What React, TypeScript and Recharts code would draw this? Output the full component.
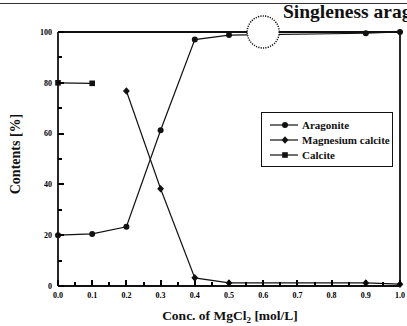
import { LineChart, Line, XAxis, YAxis, ReferenceDot, ReferenceLine, Legend } from 'recharts'

// ── data ─────────────────────────────────────────────
const ARAGONITE_X = [0, 0.1, 0.2, 0.3, 0.4, 0.5, 0.9, 1.0]
const ARAGONITE_Y = [20, 20.5, 23.3, 61.3, 97, 98.8, 99.5, 100]
const MG_CALCITE_X = [0.2, 0.3, 0.4, 0.5, 0.9, 1.0]
const MG_CALCITE_Y = [76.8, 38.3, 3.2, 1.2, 1.2, 0.7]
const CALCITE_X = [0, 0.1]
const CALCITE_Y = [80, 79.8]

const X_TICKS = [0, 0.05, 0.1, 0.15, 0.2, 0.25, 0.3, 0.35, 0.4, 0.45, 0.5, 0.55, 0.6, 0.65, 0.7, 0.75, 0.8, 0.85, 0.9, 0.95, 1.0]
const X_LABELS = [0, 0.1, 0.2, 0.3, 0.4, 0.5, 0.6, 0.7, 0.8, 0.9, 1.0]
const Y_TICKS = [0, 10, 20, 30, 40, 50, 60, 70, 80, 90, 100]
const Y_LABELS = [0, 20, 40, 60, 80, 100]

const TITLE = 'Singleness aragonite'
const X_TITLE = 'Conc. of MgCl'
const Y_TITLE = 'Contents [%]'

const toRows = (xs: number[], ys: number[]) => xs.map((x, i) => ({ x, y: ys[i] }))

type Shape = 'circle' | 'diamond' | 'square'
const SERIES: { name: string; shape: Shape; rows: { x: number; y: number }[] }[] = [
  { name: 'Aragonite', shape: 'circle', rows: toRows(ARAGONITE_X, ARAGONITE_Y) },
  { name: 'Magnesium calcite', shape: 'diamond', rows: toRows(MG_CALCITE_X, MG_CALCITE_Y) },
  { name: 'Calcite', shape: 'square', rows: toRows(CALCITE_X, CALCITE_Y) },
]

const FONT = '"Liberation Serif", "Times New Roman", serif'
const INK = '#111'
const AXIS_LINE = { stroke: INK, strokeWidth: 1.8 }
const MAJOR = 6
const MINOR = 4
const TW = 2 // tick thickness

// ── markers ──────────────────────────────────────────
function Marker({ cx, cy, shape }: { cx: number; cy: number; shape: Shape }) {
  if (cx == null || cy == null) return null
  if (shape === 'circle') return <circle cx={cx} cy={cy} r={3} fill={INK} />
  if (shape === 'diamond')
    return <polygon points={`${cx},${cy - 3.8} ${cx + 3.4},${cy} ${cx},${cy + 3.8} ${cx - 3.4},${cy}`} fill={INK} />
  return <rect x={cx - 2.8} y={cy - 2.8} width={5.6} height={5.6} fill={INK} />
}

// ── ticks: inward marks drawn as small filled rects ──
const isMajorX = (v: number) => X_LABELS.some((l) => Math.abs(l - v) < 1e-6)
const isMajorY = (v: number) => Y_LABELS.includes(v)

function BottomTick(p: any) {
  const v = Number(p.payload.value)
  const major = isMajorX(v)
  const len = major ? MAJOR : MINOR
  return (
    <g>
      <rect x={Math.round(p.x - TW / 2)} y={Math.round(p.y - len)} width={TW} height={len} fill="#000" shapeRendering="crispEdges" />
      {major && (
        <text x={p.x} y={p.y + 12} textAnchor="middle" fontSize={8} fontWeight="bold" fontFamily={FONT} fill="#000">
          {v.toFixed(1)}
        </text>
      )}
    </g>
  )
}

function TopTick(p: any) {
  const len = isMajorX(Number(p.payload.value)) ? MAJOR : MINOR
  return <rect x={Math.round(p.x - TW / 2)} y={Math.round(p.y)} width={TW} height={len} fill="#000" shapeRendering="crispEdges" />
}

function LeftTick(p: any) {
  const v = Number(p.payload.value)
  const major = isMajorY(v)
  const len = major ? MAJOR : MINOR
  return (
    <g>
      <rect x={Math.round(p.x)} y={Math.round(p.y - TW / 2)} width={len} height={TW} fill="#000" shapeRendering="crispEdges" />
      {major && (
        <text x={p.x - 6} y={p.y} dy="0.35em" textAnchor="end" fontSize={8} fontWeight="bold" fontFamily={FONT} fill="#000">
          {v}
        </text>
      )}
    </g>
  )
}

function RightTick(p: any) {
  const len = isMajorY(Number(p.payload.value)) ? MAJOR : MINOR
  return <rect x={Math.round(p.x - len)} y={Math.round(p.y - TW / 2)} width={len} height={TW} fill="#000" shapeRendering="crispEdges" />
}

function LegendBox() {
  return (
    <div style={{ border: `1px solid ${INK}`, background: '#fff', padding: '4px 0 4px 8px', fontFamily: FONT }}>
      {SERIES.map((s) => (
        <div key={s.name} style={{ display: 'flex', alignItems: 'center', height: 15 }}>
          <svg width={30} height={10}>
            <line x1={0} x2={28} y1={5} y2={5} stroke={INK} strokeWidth={1.2} />
            <Marker cx={15} cy={5} shape={s.shape} />
          </svg>
          <span style={{ fontSize: 11, fontWeight: 'bold', color: INK, marginLeft: 2 }}>{s.name}</span>
        </div>
      ))}
    </div>
  )
}

export default function App() {
  return (
    <div style={{ position: 'absolute', left: 0, top: 0, width: 407, height: 326, overflow: 'hidden', background: '#fff' }}>
      <div style={{ position: 'absolute', left: 0, top: 3, width: 407, height: 1, background: '#333' }} />
      <div
        style={{
          position: 'absolute', left: 283, top: 1, whiteSpace: 'nowrap',
          fontFamily: FONT, fontWeight: 'bold', fontSize: 19.5, color: INK, zIndex: 2,
        }}
      >
        {TITLE}
      </div>
      <LineChart width={407} height={326} margin={{ top: 0, right: 0, bottom: 0, left: 0 }}>
        <XAxis
          dataKey="x" type="number" domain={[0, 1]} ticks={X_TICKS} interval={0}
          height={40} tickSize={0} tickMargin={0} tickLine={false}
          axisLine={AXIS_LINE} tick={BottomTick}
          label={{
            content: () => (
              <text x={230} y={320} textAnchor="middle" fontSize={13.5} fontWeight="bold" fontFamily={FONT} fill={INK}>
                {X_TITLE}
                <tspan fontSize={9} dy={3}>2</tspan>
                <tspan dy={-3}> [mol/L]</tspan>
              </text>
            ),
          }}
        />
        <XAxis
          xAxisId="top" orientation="top" type="number" domain={[0, 1]} ticks={X_TICKS} interval={0}
          height={32} tickSize={0} tickMargin={0} tickLine={false}
          axisLine={AXIS_LINE} tick={TopTick}
        />
        <YAxis
          type="number" domain={[0, 100]} ticks={Y_TICKS} interval={0}
          width={58} tickSize={0} tickMargin={0} tickLine={false}
          axisLine={AXIS_LINE} tick={LeftTick}
          label={{
            content: () => (
              <text
                x={20} y={154} textAnchor="middle" fontSize={14} fontWeight="bold" fontFamily={FONT} fill={INK}
                transform="rotate(-90 20 154)"
              >
                {Y_TITLE}
              </text>
            ),
          }}
        />
        <YAxis
          yAxisId="right" orientation="right" type="number" domain={[0, 100]} ticks={Y_TICKS} interval={0}
          width={7} tickSize={0} tickMargin={0} tickLine={false}
          axisLine={AXIS_LINE} tick={RightTick}
        />
        {SERIES.map((s) => (
          <Line
            key={s.name}
            data={s.rows}
            dataKey="y"
            name={s.name}
            type="linear"
            stroke={INK}
            strokeWidth={1.2}
            isAnimationActive={false}
            dot={(p: any) => <Marker key={`${s.name}-${p.index}`} cx={p.cx} cy={p.cy} shape={s.shape} />}
            activeDot={false}
          />
        ))}
        <ReferenceDot
          x={0.6} y={100} r={16} fill="#fff" stroke={INK} strokeWidth={1.5}
          strokeDasharray="1.2 1.2" ifOverflow="visible"
        />
        <ReferenceLine
          segment={[{ x: 0.56, y: 100 }, { x: 0.645, y: 100 }]}
          stroke="#888" strokeDasharray="3 3" ifOverflow="visible"
        />
        <Legend
          layout="horizontal" verticalAlign="middle" align="center"
          wrapperStyle={{ left: 261, top: 112, width: 132 }}
          content={() => <LegendBox />}
        />
      </LineChart>
    </div>
  )
}
